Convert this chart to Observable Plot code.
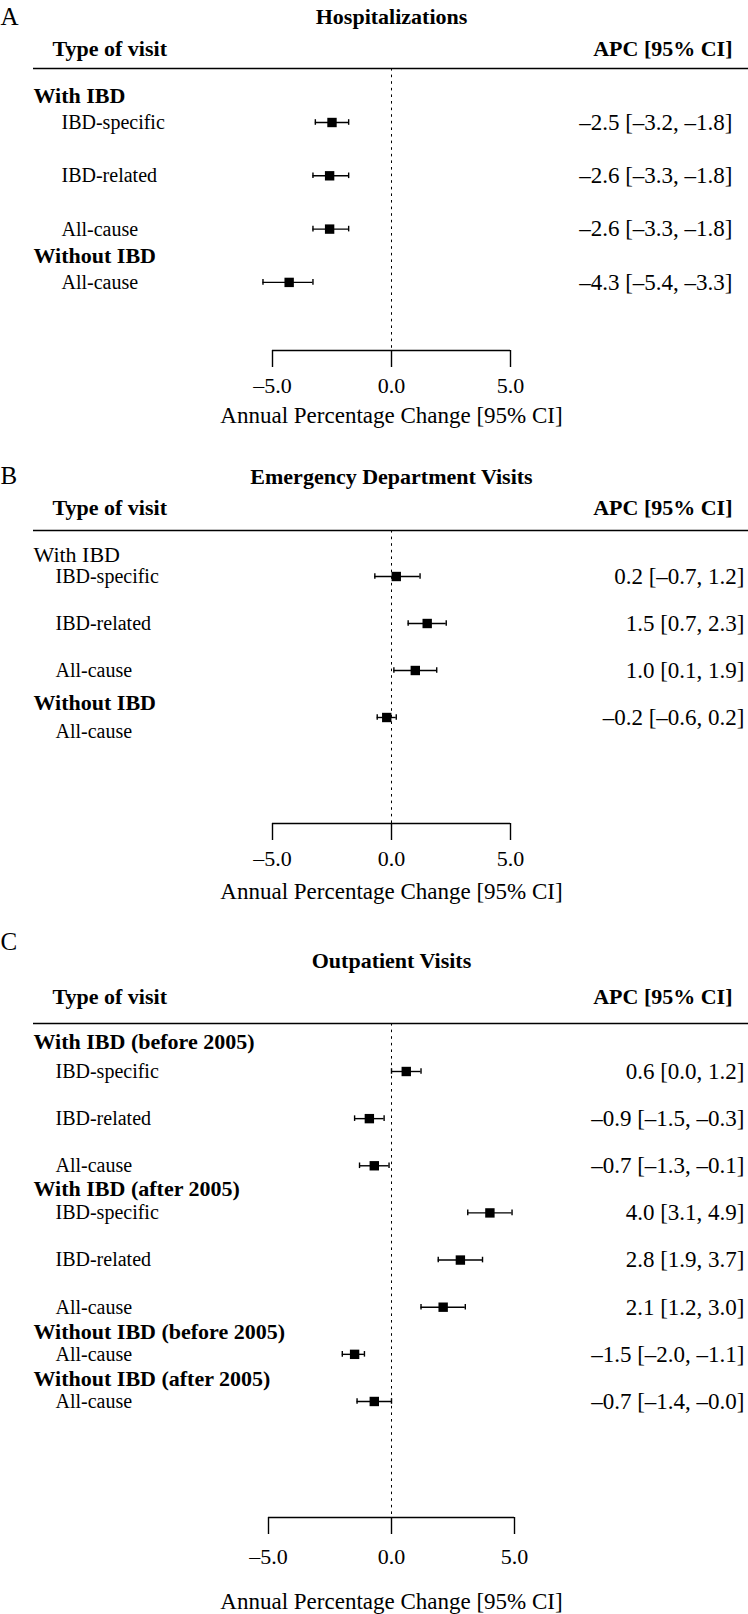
<!DOCTYPE html>
<html>
<head>
<meta charset="utf-8">
<script src="https://cdn.jsdelivr.net/npm/d3@7"></script>
<script src="https://cdn.jsdelivr.net/npm/@observablehq/plot@0.6"></script>
<style>
  html, body { margin: 0; padding: 0; background: #fff; overflow: hidden; }
  svg { display: block; }
</style>
</head>
<body>
<div id="chart"></div>
<script>
// ---------- Data ----------
// Panel A: Hospitalizations
const hospGroups = ["With IBD", "Without IBD"];
const hospLabels = ["IBD-specific", "IBD-related", "All-cause", "All-cause"];
const hospGroupOf = [0, 0, 0, 1];
const hospAPC  = [-2.5, -2.6, -2.6, -4.3];
const hospLow  = [-3.2, -3.3, -3.3, -5.4];
const hospHigh = [-1.8, -1.8, -1.8, -3.3];

// Panel B: Emergency Department Visits
const edGroups = ["With IBD", "Without IBD"];
const edLabels = ["IBD-specific", "IBD-related", "All-cause", "All-cause"];
const edGroupOf = [0, 0, 0, 1];
const edAPC  = [0.2, 1.5, 1.0, -0.2];
const edLow  = [-0.7, 0.7, 0.1, -0.6];
const edHigh = [1.2, 2.3, 1.9, 0.2];

// Panel C: Outpatient Visits
const outGroups = ["With IBD (before 2005)", "With IBD (after 2005)", "Without IBD (before 2005)", "Without IBD (after 2005)"];
const outLabels = ["IBD-specific", "IBD-related", "All-cause", "IBD-specific", "IBD-related", "All-cause", "All-cause", "All-cause"];
const outGroupOf = [0, 0, 0, 1, 1, 1, 2, 3];
const outAPC  = [0.6, -0.9, -0.7, 4.0, 2.8, 2.1, -1.5, -0.7];
const outLow  = [0.0, -1.5, -1.3, 3.1, 1.9, 1.2, -2.0, -1.4];
const outHigh = [1.2, -0.3, -0.1, 4.9, 3.7, 3.0, -1.1, -0.0];

const xTicks = [-5, 0, 5];
const colHeadLeft = "Type of visit";
const colHeadRight = "APC [95% CI]";
const axisTitle = "Annual Percentage Change [95% CI]";

// ---------- Helpers ----------
const FONT = "'Liberation Serif', 'Times New Roman', serif";
function fmt(v) {
  const neg = v < 0 || Object.is(v, -0);
  return (neg ? "\u2013" : "") + Math.abs(v).toFixed(1);
}

function panel(cfg) {
  const items = cfg.labels.map((label, i) => ({
    label, est: cfg.est[i], lo: cfg.lo[i], hi: cfg.hi[i],
    row: i, shift: (cfg.labelShift ? cfg.labelShift[i] : 0),
    text: `${fmt(cfg.est[i])} [${fmt(cfg.lo[i])}, ${fmt(cfg.hi[i])}]`
  }));
  const groups = cfg.groups.map((name, g) => ({
    name,
    row: cfg.groupOf.indexOf(g) + cfg.headerOffsets[g],
    weight: cfg.headerWeights[g]
  }));
  const top = cfg.marginTop, bottom = cfg.height - cfg.marginBottom;
  const yDomain = [(top - cfg.row0) / cfg.step, (bottom - cfg.row0) / cfg.step];
  const cap = 2.8 / cfg.step;
  const tickSize = 17, tickFont = 22;

  return Plot.plot({
    width: 748,
    height: cfg.height,
    marginLeft: 0, marginRight: 0,
    marginTop: cfg.marginTop, marginBottom: cfg.marginBottom,
    style: { fontFamily: FONT, fontSize: "22px", background: "#fff", color: "#000", overflow: "visible" },
    x: { type: "linear", domain: [-5, 5], range: cfg.xRange, axis: null },
    y: { type: "linear", domain: yDomain, range: [top, bottom], axis: null },
    marks: [
      // header rule
      Plot.ruleY([yDomain[0]], { insetLeft: 33, stroke: "#000", strokeWidth: 1.6 }),
      // zero reference line
      Plot.ruleX([0], { stroke: "#000", strokeWidth: 1, strokeDasharray: "2.6,4" }),
      // axis baseline + ticks
      Plot.ruleY([yDomain[1]], { x1: xTicks[0], x2: xTicks[xTicks.length - 1], stroke: "#000", strokeWidth: 1.4 }),
      Plot.axisX({
        anchor: "bottom", ticks: xTicks, tickSize, tickFormat: fmt,
        tickPadding: cfg.tickGap - tickSize - 0.71 * tickFont,
        fontSize: tickFont, strokeWidth: 1.4, stroke: "#000", fill: "#000", label: null
      }),
      // error bars
      Plot.ruleY(items, { x1: "lo", x2: "hi", y: "row", stroke: "#000", strokeWidth: 1.4 }),
      Plot.ruleX(items, { x: "lo", y1: d => d.row - cap, y2: d => d.row + cap, stroke: "#000", strokeWidth: 1.4 }),
      Plot.ruleX(items, { x: "hi", y1: d => d.row - cap, y2: d => d.row + cap, stroke: "#000", strokeWidth: 1.4 }),
      Plot.dot(items, { x: "est", y: "row", symbol: "square", r: 5.3, fill: "#000" }),
      // row labels
      Plot.text(items, { y: d => d.row + d.shift, text: "label", frameAnchor: "left", dx: cfg.labelX, textAnchor: "start", lineAnchor: "middle", fontSize: 20, fill: "#000" }),
      // group headers
      Plot.text(groups.filter(g => g.weight === "bold"), { y: "row", text: "name", frameAnchor: "left", dx: 33, textAnchor: "start", lineAnchor: "middle", fontSize: 22, fontWeight: "bold", fill: "#000" }),
      Plot.text(groups.filter(g => g.weight !== "bold"), { y: "row", text: "name", frameAnchor: "left", dx: 33, textAnchor: "start", lineAnchor: "middle", fontSize: 22, fill: "#000" }),
      // values
      Plot.text(items, { y: "row", text: "text", frameAnchor: "right", dx: -(748 - cfg.valueRight), textAnchor: "end", lineAnchor: "middle", fontSize: 23, fill: "#000" }),
      // panel letter
      Plot.text([cfg.letter], { frameAnchor: "top-left", dy: cfg.letterBase - top, textAnchor: "start", lineAnchor: "bottom", fontSize: 25, fill: "#000" }),
      // title
      Plot.text([cfg.title], { x: 0, frameAnchor: "top", dy: cfg.titleBase - top, textAnchor: "middle", lineAnchor: "bottom", fontSize: 22, fontWeight: "bold", fill: "#000" }),
      // column heads
      Plot.text([colHeadLeft], { frameAnchor: "top-left", dx: 52, dy: cfg.typeBase - top, textAnchor: "start", lineAnchor: "bottom", fontSize: 22, fontWeight: "bold", fill: "#000" }),
      Plot.text([colHeadRight], { frameAnchor: "top-right", dx: -16, dy: cfg.typeBase - top, textAnchor: "end", lineAnchor: "bottom", fontSize: 22, fontWeight: "bold", fill: "#000" }),
      // axis title
      Plot.text([axisTitle], { x: 0, frameAnchor: "bottom", dy: cfg.axisTitleGap, textAnchor: "middle", lineAnchor: "bottom", fontSize: 23, fill: "#000" })
    ]
  });
}

const chart = document.getElementById("chart");

chart.append(panel({
  letter: "A", title: "Hospitalizations",
  groups: hospGroups, labels: hospLabels, groupOf: hospGroupOf,
  est: hospAPC, lo: hospLow, hi: hospHigh,
  headerOffsets: [-0.5, -0.5], headerWeights: ["bold", "bold"],
  height: 440, marginTop: 68, marginBottom: 90, row0: 122, step: 53.3,
  labelX: 61, valueRight: 732, letterBase: 24, titleBase: 23, typeBase: 55,
  tickGap: 42, axisTitleGap: 72, xRange: [272, 510]
}));

chart.append(panel({
  letter: "B", title: "Emergency Department Visits",
  groups: edGroups, labels: edLabels, groupOf: edGroupOf,
  est: edAPC, lo: edLow, hi: edHigh,
  headerOffsets: [-0.45, -0.32], headerWeights: ["normal", "bold"],
  labelShift: [0, 0, 0, 0.31],
  height: 470, marginTop: 90, marginBottom: 87, row0: 136, step: 47,
  labelX: 55, valueRight: 744, letterBase: 43, titleBase: 43, typeBase: 74,
  tickGap: 42, axisTitleGap: 75, xRange: [272, 510]
}));

chart.append(panel({
  letter: "C", title: "Outpatient Visits",
  groups: outGroups, labels: outLabels, groupOf: outGroupOf,
  est: outAPC, lo: outLow, hi: outHigh,
  headerOffsets: [-0.62, -0.5, -0.47, -0.48], headerWeights: ["bold", "bold", "bold", "bold"],
  height: 704, marginTop: 113, marginBottom: 97, row0: 161, step: 47.14,
  labelX: 55, valueRight: 744, letterBase: 39, titleBase: 57, typeBase: 93,
  tickGap: 46, axisTitleGap: 91, xRange: [268, 514]
}));
</script>
</body>
</html>
